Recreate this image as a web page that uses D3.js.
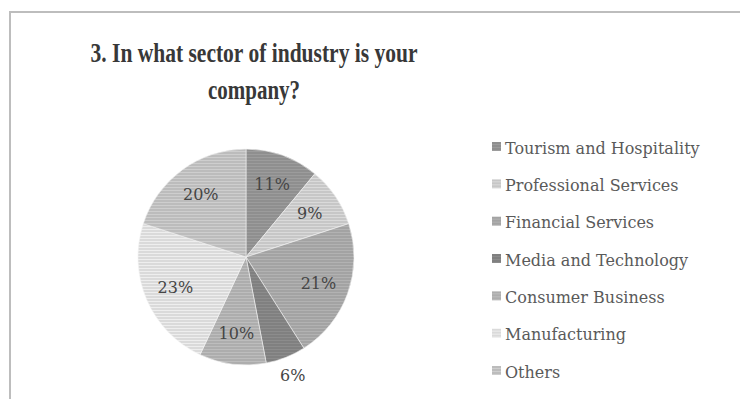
<!DOCTYPE html>
<html>
<head>
<meta charset="utf-8">
<script src="https://cdn.jsdelivr.net/npm/d3@7/dist/d3.min.js"></script>
<style>
  html, body { margin: 0; padding: 0; background: #fff; }
  svg { display: block; }
</style>
</head>
<body>
<svg id="chart" width="740" height="399"></svg>
<script>
// Survey answers: sector of industry, share of respondents (%)
const sectors = ["Tourism and Hospitality", "Professional Services", "Financial Services",
                 "Media and Technology", "Consumer Business", "Manufacturing", "Others"];
const shares = [11, 9, 21, 6, 10, 23, 20];
const shades = ["#8f8f8f", "#c7c7c7", "#a3a3a3", "#808080", "#adadad", "#dadada", "#bcbcbc"];
const titleLines = ["3. In what sector of industry is your", "company?"];

const W = 740, H = 399;
const svg = d3.select("#chart");

// frame of the chart area
svg.append("path")
  .attr("d", `M10,${H} L10,12 L${W},12`)
  .attr("fill", "none")
  .attr("stroke", "#bdbdbd")
  .attr("stroke-width", 2);

// horizontal-line texture used for the fills
const defs = svg.append("defs");
shades.forEach((c, i) => {
  const p = defs.append("pattern")
    .attr("id", "fill" + i)
    .attr("patternUnits", "userSpaceOnUse")
    .attr("width", 8).attr("height", 3);
  p.append("rect").attr("width", 8).attr("height", 3).attr("fill", c);
  p.append("rect").attr("y", 2).attr("width", 8).attr("height", 1)
    .attr("fill", d3.color(c).brighter(0.25));
});

// title (bold, condensed serif)
const titleSizes = [327, 92];
const titleBase = [62, 99];
titleLines.forEach((t, i) => {
  svg.append("text")
    .attr("x", 254)
    .attr("y", titleBase[i])
    .attr("text-anchor", "middle")
    .attr("font-family", "'Liberation Serif', 'DejaVu Serif', serif")
    .attr("font-weight", "bold")
    .attr("font-size", 27)
    .attr("fill", "#383838")
    .attr("textLength", titleSizes[i])
    .attr("lengthAdjust", "spacingAndGlyphs")
    .text(t);
});

// pie
const cx = 246, cy = 257, R = 108;
const pie = d3.pie().sort(null).value(d => d.v);
const data = sectors.map((s, i) => ({ s, v: shares[i], i }));
const arcs = pie(data);
const arc = d3.arc().innerRadius(0).outerRadius(R);
const inLabel = d3.arc().innerRadius(77).outerRadius(77);
const outLabel = d3.arc().innerRadius(127).outerRadius(127);

const g = svg.append("g").attr("transform", `translate(${cx},${cy})`);
g.selectAll("path.slice")
  .data(arcs)
  .join("path")
  .attr("class", "slice")
  .attr("d", arc)
  .attr("fill", d => `url(#fill${d.data.i})`)
  .attr("stroke", "#f2f2f2")
  .attr("stroke-width", 0.6);

g.selectAll("text.pct")
  .data(arcs)
  .join("text")
  .attr("class", "pct")
  .attr("transform", d => `translate(${(d.data.v < 8 ? outLabel : inLabel).centroid(d)})`)
  .attr("text-anchor", "middle")
  .attr("dy", "0.35em")
  .attr("font-family", "'DejaVu Serif', serif")
  .attr("font-size", 16)
  .attr("fill", "#454545")
  .text(d => d.data.v + "%");

// legend
const legendY = d3.scalePoint().domain(sectors).range([148, 372]);
const lg = svg.append("g");
const items = lg.selectAll("g")
  .data(data)
  .join("g")
  .attr("transform", d => `translate(492,${legendY(d.s)})`);
items.append("rect")
  .attr("x", 0).attr("y", -6)
  .attr("width", 9).attr("height", 9)
  .attr("fill", d => `url(#fill${d.i})`);
items.append("text")
  .attr("x", 13)
  .attr("y", 0)
  .attr("dy", "0.35em")
  .attr("font-family", "'DejaVu Serif', serif")
  .attr("font-size", 16)
  .attr("fill", "#5a5a5a")
  .text(d => d.s);
</script>
</body>
</html>
